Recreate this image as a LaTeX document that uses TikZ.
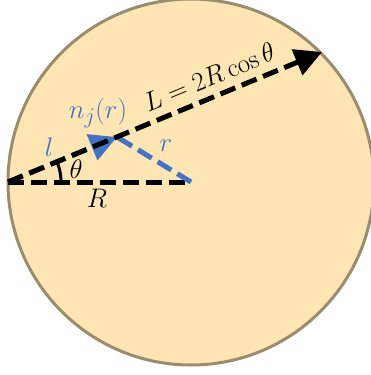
\documentclass[tikz,border=0pt]{standalone}
\usetikzlibrary{arrows.meta}
\definecolor{fillc}{HTML}{FDE6B3}
\definecolor{edgec}{HTML}{9A8C6C}
\definecolor{bluec}{HTML}{4472C4}
\tikzset{
  dline/.style={line width=5pt, dash pattern=on 16pt off 7pt},
  lab/.style={inner sep=0pt, font=\fontsize{24.88}{30}\selectfont, scale=1.08, transform shape},
  bluelab/.style={lab, text=bluec},
  bigtip/.style={-{Triangle[length=27pt,width=27pt]}}
}
\begin{document}
\begin{tikzpicture}[x=1pt,y=-1pt]
\useasboundingbox (0,0) rectangle (371,375);
\clip (0,0) rectangle (371,375);
\coordinate (O) at (191,182);
\coordinate (A) at (8,182);
\coordinate (E) at (322,52);
\coordinate (P) at (117,137);
\node[circle, draw=edgec, fill=fillc, line width=3pt, minimum size=366pt, inner sep=0pt] (C) at (O) {};
\draw[dline, black] (A) -- (O);
\draw[dline, bluec] (O) -- (P);
\draw[dline, bluec, bigtip] (A) -- (P);
\draw[dline, black, bigtip] (A) -- (E);
\draw[line width=3pt, black] plot[domain=0:22.5, samples=20, smooth] ({8+53*cos(\x)},{182-53*sin(\x)});
\node[lab] (theta) at (76,169) {$\theta$};
\node[lab] (Rl) at (97,198) {$R$};
\node[bluelab] (ll) at (49,147) {$l$};
\node[bluelab] (rl) at (166,146) {$r$};
\node[bluelab] (nj) at (98,113) {$n_j(r)$};
\node[lab, rotate=22.5] (Ll) at (209,77) {$L=2R\cos\theta$};
\end{tikzpicture}
\end{document}
